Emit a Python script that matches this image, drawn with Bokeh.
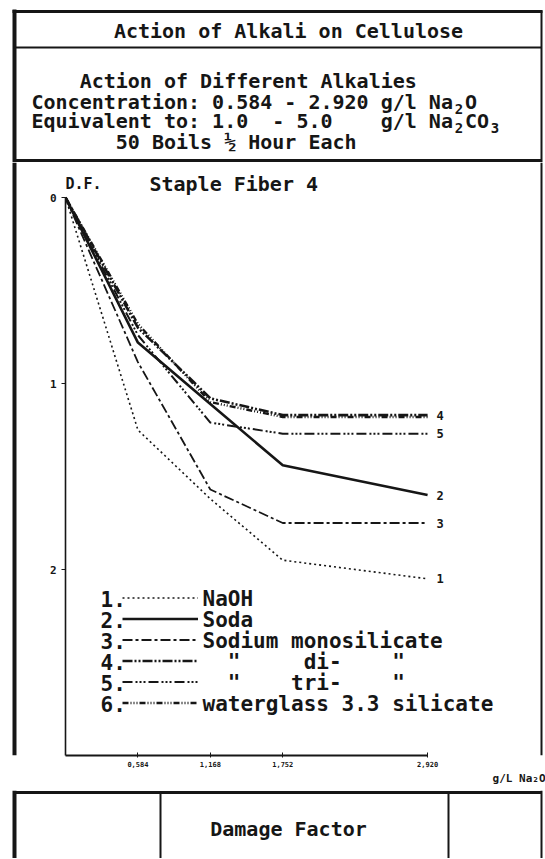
from bokeh.plotting import figure
from bokeh.models import Range1d, FixedTicker, Legend, LegendItem, Span, Title
from bokeh.layouts import column, row
from bokeh.embed import file_html
from bokeh.resources import INLINE
from bokeh.core.properties import value

# ---------------- data ----------------
conc = [0.0, 0.584, 1.168, 1.752, 2.920]          # g/l Na2O
naoh = [0.0, 1.25, 1.62, 1.95, 2.05]
soda = [0.0, 0.78, 1.11, 1.44, 1.60]
mono_sil = [0.0, 0.885, 1.57, 1.75, 1.75]
di_sil = [0.0, 0.70, 1.08, 1.17, 1.17]
tri_sil = [0.0, 0.74, 1.21, 1.27, 1.27]
waterglass = [0.0, 0.68, 1.10, 1.18, 1.18]

series = [naoh, soda, mono_sil, di_sil, tri_sil, waterglass]
series_numbers = ["1.", "2.", "3.", "4.", "5.", "6."]
NB = "\u00a0"
series_names = [
    "NaOH",
    "Soda",
    "Sodium monosilicate",
    NB * 2 + '"' + NB * 5 + "di-" + NB * 4 + '"',
    NB * 2 + '"' + NB * 4 + "tri-" + NB * 4 + '"',
    "waterglass 3.3 silicate",
]
end_labels = ["1", "2", "3", "4", "5"]

x_ticks = [0.584, 1.168, 1.752, 2.920]
x_tick_labels = ["0,584", "1,168", "1,752", "2,920"]
y_ticks = [0, 1, 2]
y_tick_labels = ["0", "1", "2"]

title_text = "Action of Alkali on Cellulose"
sub_lines = [
    NB * 4 + "Action of Different Alkalies",
    "Concentration:" + NB + "0.584" + NB + "-" + NB + "2.920" + NB + "g/l" + NB + "Na" + NB + "O",
    "Equivalent" + NB + "to:" + NB + "1.0" + NB * 2 + "-" + NB + "5.0" + NB * 4 + "g/l" + NB + "Na" + NB + "CO",
    NB * 7 + "50 Boils ½ Hour Each",
]
panel_title = "Staple Fiber 4"
y_name = "D.F."
x_name = "g/L Na\u2082O"
footer_text = "Damage Factor"

# ---------------- styles ----------------
FONT = "DejaVu Sans Mono"
INK = "#161616"
dashes = ["2 3", "solid", "10 3 3 3", "10 2 2 2 2 2", "10 3 2 2 2 2 2 3", "6 2 1 2 1 2 1 2"]
widths = [1.6, 2.6, 1.8, 2.6, 2.0, 2.4]

LEFT_X = 14      # outer left border
RIGHT_X = 541    # outer right border


def deco_fig(w, h):
    f = figure(width=w, height=h, x_range=Range1d(0, w), y_range=Range1d(h, 0),
               output_backend="svg", toolbar_location=None, min_border=0,
               x_axis_location=None, y_axis_location=None)
    f.grid.grid_line_color = None
    f.outline_line_color = None
    f.background_fill_color = "white"
    f.border_fill_color = "white"
    return f


# ---------------- header ----------------
HW, HH = 545, 162
header = deco_fig(HW, HH)
header.segment(x0=[LEFT_X], y0=[9], x1=[LEFT_X], y1=[HH], line_width=4, line_color=INK)
header.segment(x0=[12], y0=[11], x1=[542], y1=[11], line_width=3, line_color=INK)
header.segment(x0=[RIGHT_X], y0=[10], x1=[RIGHT_X], y1=[HH], line_width=2, line_color=INK)
header.segment(x0=[LEFT_X], y0=[47], x1=[RIGHT_X], y1=[47], line_width=2, line_color=INK)
header.segment(x0=[LEFT_X], y0=[160], x1=[RIGHT_X], y1=[160], line_width=3, line_color=INK)
header.text(x=[288], y=[30], text=[title_text], text_font=value(FONT), text_font_style="bold",
            text_font_size="20px", text_align="center", text_baseline="middle", text_color=INK)
CW = 12.04
X0 = 31
line_y = [80, 101, 120, 141]
header.text(x=[X0] * 4, y=line_y, text=sub_lines, text_font=value(FONT), text_font_style="bold",
            text_font_size="20px", text_align="left", text_baseline="middle", text_color=INK)
header.text(x=[X0 + 35 * CW + 6, X0 + 35 * CW + 6, X0 + 38 * CW + 6],
            y=[line_y[1] + 7, line_y[2] + 7, line_y[2] + 7],
            text=["2", "2", "3"], text_font=value(FONT), text_font_style="bold",
            text_font_size="14px", text_align="center", text_baseline="middle", text_color=INK)

# ---------------- left strip ----------------
MH = 628
SW = 40
strip = deco_fig(SW, MH)
strip.segment(x0=[LEFT_X], y0=[0], x1=[LEFT_X], y1=[MH], line_width=4, line_color=INK)

# ---------------- main chart ----------------
PX_X = 124.0   # px per g/l
PX_Y = 186.0   # px per D.F. unit
TOP_PAD = 35   # px between frame top and D.F. = 0
MW = 545 - SW
p = figure(width=MW, height=MH, x_range=Range1d(0, 480 / PX_X), y_range=Range1d(3.0, -TOP_PAD / PX_Y),
           output_backend="svg", toolbar_location=None,
           min_border_left=25, min_border_right=0, min_border_top=0, min_border_bottom=35)
p.grid.grid_line_color = None
p.outline_line_color = None
p.background_fill_color = "white"
p.border_fill_color = "white"

p.xaxis.ticker = FixedTicker(ticks=x_ticks)
p.xaxis.major_label_overrides = dict(zip(x_ticks, x_tick_labels))
p.xaxis.bounds = (0, conc[-1])
p.yaxis.ticker = FixedTicker(ticks=y_ticks)
p.yaxis.major_label_overrides = dict(zip(y_ticks, y_tick_labels))
p.yaxis.bounds = (0, 3.0)
for ax, fs in ((p.xaxis, "7px"), (p.yaxis, "11px")):
    ax.axis_line_color = INK
    ax.major_tick_line_color = INK
    ax.minor_tick_line_color = None
    ax.major_label_text_font = FONT
    ax.major_label_text_font_style = "bold"
    ax.major_label_text_font_size = fs
    ax.major_label_text_color = INK
p.xaxis.axis_line_width = 2
p.yaxis.axis_line_width = 1.6
p.xaxis.major_tick_in = 3
p.xaxis.major_tick_out = 2
p.xaxis.major_label_standoff = 3
p.yaxis.major_tick_in = 0
p.yaxis.major_tick_out = 4
p.yaxis.major_label_standoff = 5

renderers = []
for ys, d, w in zip(series, dashes, widths):
    renderers.append(p.line(conc, ys, line_color=INK, line_width=w, line_dash=d))

p.text(x=[conc[-1]] * 5, y=[s[-1] for s in series[:5]], text=end_labels, x_offset=9,
       text_font=value(FONT), text_font_style="bold", text_font_size="12px",
       text_baseline="middle", text_align="left", text_color=INK)

p.text(x=[0.0], y=[-0.075], text=[y_name], text_font=value(FONT), text_font_style="bold",
       text_font_size="15px", text_baseline="middle", text_align="left", text_color=INK)
p.text(x=[0.677], y=[-0.075], text=[panel_title], text_font=value(FONT), text_font_style="bold",
       text_font_size="20px", text_baseline="middle", text_align="left", text_color=INK)

# legend: line samples from Bokeh's Legend, numbers and names as text in the same rows
ROW_H = 21
LEG_BOTTOM = 42          # px above the frame bottom (frame bottom = D.F. 3.0)
FRAME_H = 3.0 * PX_Y + TOP_PAD
row_px = [FRAME_H - LEG_BOTTOM - ROW_H * (6 - i) + ROW_H / 2 for i in range(6)]  # px from frame top
row_y = [(r - TOP_PAD) / PX_Y for r in row_px]
samples = Legend(items=[LegendItem(label=NB, renderers=[r]) for r in renderers],
                 location=(57, LEG_BOTTOM), orientation="vertical", glyph_width=76,
                 glyph_height=ROW_H, label_height=ROW_H, spacing=0, padding=0, margin=0,
                 label_standoff=0, label_text_font_size="6px",
                 border_line_color=None, background_fill_alpha=0)
p.add_layout(samples)
p.text(x=[35 / PX_X] * 6, y=row_y, text=series_numbers, y_offset=1, text_font=value(FONT),
       text_font_style="bold", text_font_size="21px", text_baseline="middle",
       text_align="left", text_color=INK)
p.text(x=[137 / PX_X] * 6, y=row_y, text=series_names, y_offset=1, text_font=value(FONT),
       text_font_style="bold", text_font_size="21px", text_baseline="middle",
       text_align="left", text_color=INK)

p.add_layout(Span(location=(RIGHT_X - 65) / PX_X, dimension="height", line_color=INK, line_width=2))
p.add_layout(Title(text=x_name, align="right", text_font=FONT, text_font_size="11px",
                   text_font_style="bold", text_color=INK, standoff=0), "below")

# ---------------- footer ----------------
FW, FH = 545, 858 - HH - MH
footer = deco_fig(FW, FH)
footer.segment(x0=[LEFT_X], y0=[0], x1=[LEFT_X], y1=[FH], line_width=4, line_color=INK)
footer.segment(x0=[RIGHT_X], y0=[0], x1=[RIGHT_X], y1=[FH], line_width=2, line_color=INK)
footer.segment(x0=[LEFT_X], y0=[2], x1=[RIGHT_X], y1=[2], line_width=3, line_color=INK)
footer.segment(x0=[160, 448], y0=[2, 2], x1=[160, 448], y1=[FH, FH], line_width=2, line_color=INK)
footer.text(x=[288], y=[38], text=[footer_text], text_font=value(FONT), text_font_style="bold",
            text_font_size="20px", text_align="center", text_baseline="middle", text_color=INK)

layout = column(header, row(strip, p), footer)
open("out.html", "w").write(file_html(layout, INLINE))
